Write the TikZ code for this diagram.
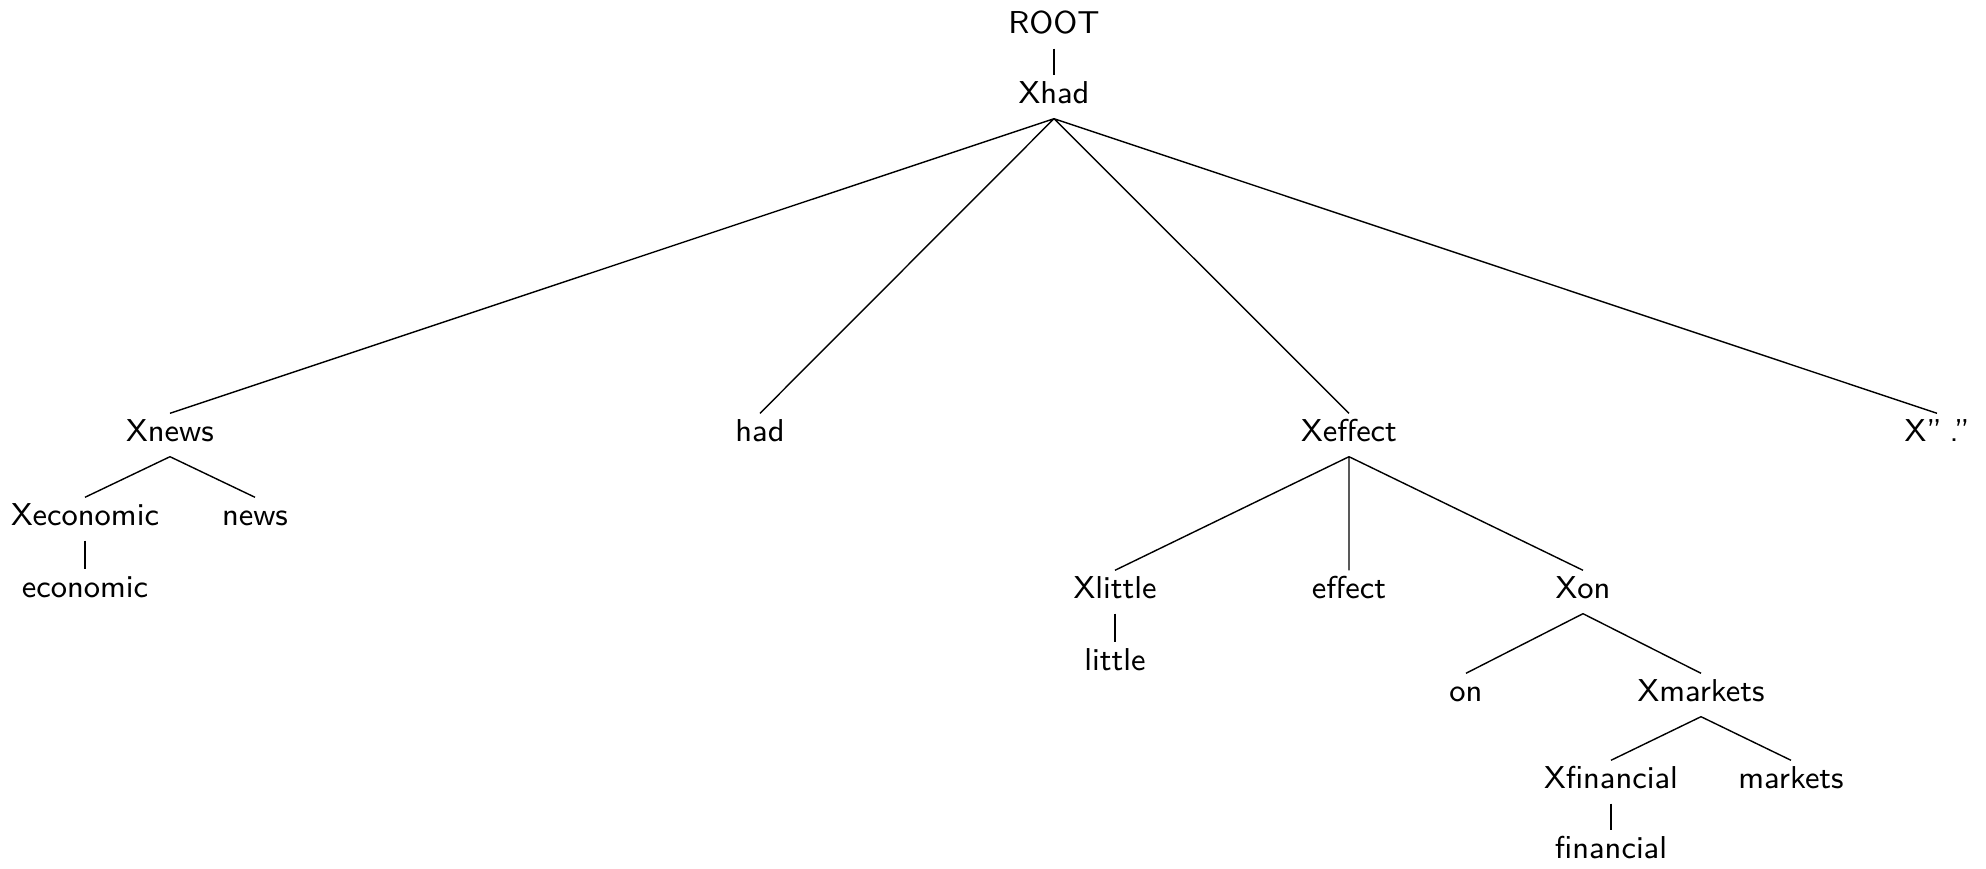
\documentclass[tikz,border=0pt]{standalone}
\usepackage{tikz}
\usetikzlibrary{positioning}
\tikzset{word/.style={anchor=base,font=\fontsize{9}{11}\selectfont\sffamily,
text height=2.3mm,text depth=0.9mm,inner sep=0.5mm}}
\begin{document}
\begin{tikzpicture}[x=0.1mm,y=-0.1mm]
\useasboundingbox(0,0)rectangle(1986,869);
\node[word](root)at(1054,34){ROOT};
\node[word](xhad)at(1054,104){Xhad};
\node[word](xnews)at(170,442){Xnews};
\node[word](had)at(760,442){had};
\node[word](xeffect)at(1349,442){Xeffect};
\node[word](xdot)at(1937,442){X''\kern0.25em.''};
\node[word](xeconomic)at(85,526){Xeconomic};
\node[word](news)at(255,526){news};
\node[word](economic)at(85,598){economic};
\node[word](xlittle)at(1115,599){Xlittle};
\node[word](effect)at(1349,599){effect};
\node[word](xon)at(1583,599){Xon};
\node[word](little)at(1115,671){little};
\node[word](on)at(1466,702){on};
\node[word](xmarkets)at(1701,702){Xmarkets};
\node[word](xfinancial)at(1611,789){Xfinancial};
\node[word](markets)at(1791,789){markets};
\node[word](financial)at(1611,859){financial};
% tree edges
\draw(root.south)--(xhad.north);
\draw(xhad.south)--(xnews.north)
(xhad.south)--(had.north)
(xhad.south)--(xeffect.north)
(xhad.south)--(xdot.north);
\draw(xnews.south)--(xeconomic.north)
(xnews.south)--(news.north);
\draw(xeconomic.south)--(economic.north);
\draw(xeffect.south)--(xlittle.north)
(xeffect.south)--(effect.north)
(xeffect.south)--(xon.north);
\draw(xlittle.south)--(little.north);
\draw(xon.south)--(on.north)
(xon.south)--(xmarkets.north);
\draw(xmarkets.south)--(xfinancial.north)
(xmarkets.south)--(markets.north);
\draw(xfinancial.south)--(financial.north);
\end{tikzpicture}
\end{document}
